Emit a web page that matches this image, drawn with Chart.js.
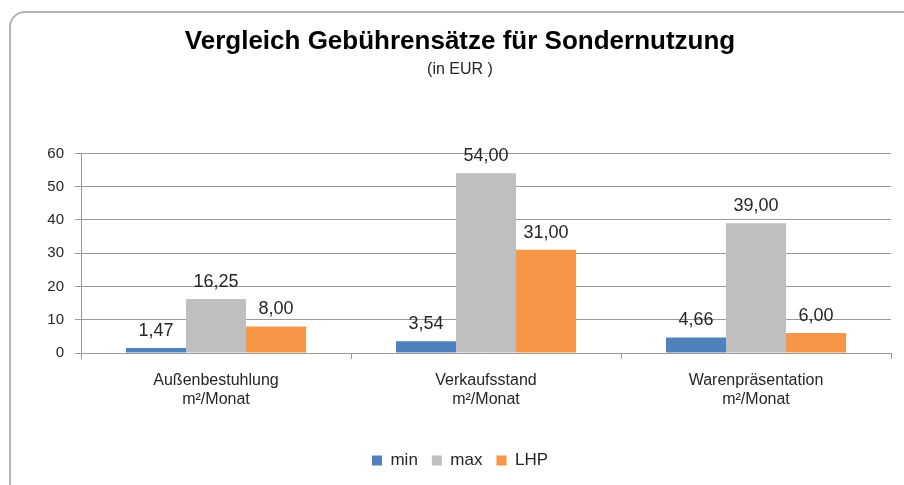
<!DOCTYPE html>
<html>
<head>
<meta charset="utf-8">
<script src="https://cdn.jsdelivr.net/npm/chart.js@4.4.1/dist/chart.umd.min.js"></script>
<style>
  html, body { margin: 0; padding: 0; background: #fff; overflow: hidden; }
  #frame {
    position: absolute; left: 9px; top: 11px; width: 912px; height: 500px;
    border: 2px solid #b4b4b4; border-radius: 16px; box-sizing: border-box;
  }
  #wrap { position: absolute; left: 0; top: 0; width: 904px; height: 485px; }
</style>
</head>
<body>
<div id="frame"></div>
<div id="wrap"><canvas id="gebuehrenChart" width="904" height="485"></canvas></div>
<script>
const categories = [
    ['Außenbestuhlung', 'm²/Monat'],
    ['Verkaufsstand', 'm²/Monat'],
    ['Warenpräsentation', 'm²/Monat']
];
const minValues = [1.47, 3.54, 4.66];
const maxValues = [16.25, 54.00, 39.00];
const lhpValues = [8.00, 31.00, 6.00];
const yTicks = [0, 10, 20, 30, 40, 50, 60];

const fontFamily = '"Liberation Sans", Arial, sans-serif';
const textColor = '#262626';
const gridColor = '#9a9a9a';

// Werte über den Balken (deutsches Zahlenformat)
const valueLabels = {
    id: 'valueLabels',
    afterDatasetsDraw(chart) {
        const ctx = chart.ctx;
        ctx.save();
        ctx.font = '18px ' + fontFamily;
        ctx.fillStyle = textColor;
        ctx.textAlign = 'center';
        ctx.textBaseline = 'bottom';
        chart.data.datasets.forEach((ds, i) => {
            chart.getDatasetMeta(i).data.forEach((bar, j) => {
                const text = ds.data[j].toFixed(2).replace('.', ',');
                ctx.fillText(text, bar.x, bar.y - 8);
            });
        });
        ctx.restore();
    }
};

new Chart(document.getElementById('gebuehrenChart'), {
    type: 'bar',
    data: {
        labels: categories,
        datasets: [{
            label: 'min',
            data: minValues,
            backgroundColor: '#4F81BD'
        }, {
            label: 'max',
            data: maxValues,
            backgroundColor: '#BFBFBF'
        }, {
            label: 'LHP',
            data: lhpValues,
            backgroundColor: '#F79646'
        }]
    },
    options: {
        responsive: false,
        animation: false,
        layout: {
            padding: { top: 26, left: 29, right: 13, bottom: 6 }
        },
        datasets: {
            bar: {
                barPercentage: 1,
                categoryPercentage: 0.667
            }
        },
        plugins: {
            title: {
                display: true,
                text: 'Vergleich Gebührensätze für Sondernutzung',
                color: '#000',
                font: { family: fontFamily, size: 26, weight: 'bold', lineHeight: 1.2 },
                padding: { top: 0, bottom: 3 }
            },
            subtitle: {
                display: true,
                text: '(in EUR )',
                color: textColor,
                font: { family: fontFamily, size: 16, lineHeight: 1.2 },
                padding: { top: 0, bottom: 74 }
            },
            legend: {
                position: 'bottom',
                labels: {
                    color: textColor,
                    font: { family: fontFamily, size: 17 },
                    boxWidth: 10,
                    boxHeight: 10,
                    padding: 14
                }
            },
            tooltip: { enabled: false }
        },
        scales: {
            x: {
                grid: {
                    drawOnChartArea: false,
                    color: gridColor,
                    tickLength: 6
                },
                border: { color: gridColor, width: 1 },
                ticks: {
                    color: textColor,
                    font: { family: fontFamily, size: 16, lineHeight: 1.2 },
                    padding: 12
                },
                afterFit(scale) { scale.height = 85; }
            },
            y: {
                min: 0,
                max: 60,
                afterBuildTicks(scale) {
                    scale.ticks = yTicks.map(v => ({ value: v }));
                },
                grid: {
                    color: gridColor,
                    tickLength: 6
                },
                border: { color: gridColor, width: 1 },
                ticks: {
                    color: textColor,
                    font: { family: fontFamily, size: 15 },
                    padding: 11
                },
                afterFit(scale) { scale.width = 52; }
            }
        }
    },
    plugins: [valueLabels]
});
</script>
</body>
</html>
